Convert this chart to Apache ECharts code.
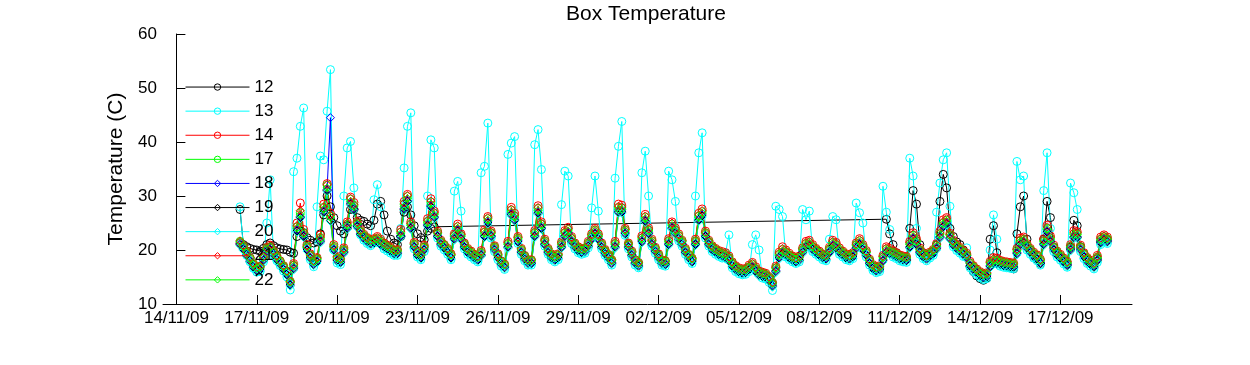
<!DOCTYPE html>
<html><head><meta charset="utf-8">
<script src="https://cdn.jsdelivr.net/npm/echarts@6/dist/echarts.min.js"></script>
<style>html,body{margin:0;padding:0;background:#fff}#chart{width:1250px;height:365px}</style>
</head><body><div id="chart"></div>
<script>
const chartTitle = 'Box Temperature';
const yAxisTitle = 'Temperature (C)';
const tickLabels = ['14/11/09','17/11/09','20/11/09','23/11/09','26/11/09','29/11/09','02/12/09','05/12/09','08/12/09','11/12/09','14/12/09','17/12/09'];
const yTicks = [10, 20, 30, 40, 50, 60];
const startTime = '16/11/09 09:00';
const stepHours = 3;
const seriesNames = ['12','13','14','17','18','19','20','21','22'];

const s12 = [
27.5,21.0,20.6,20.3,20.1,
20.0,19.8,20.3,21.0,21.3,20.8,20.4,20.2,
20.1,20.0,19.6,19.4,22.5,23.5,23.2,22.3,
21.8,21.3,21.5,23.0,26.5,30.0,28.0,26.0,
24.5,23.5,23.0,24.5,27.5,27.5,26.0,25.5,
25.3,24.8,24.5,25.5,28.5,29.0,26.5,23.5,
22.0,21.3,21.0,22.5,27.0,28.0,26.5,24.5,
23.0,22.3,21.9,23.5,24.0,24.3,null,null,
null,null,null,null,null,null,null,null,
null,null,null,null,null,null,null,null,
null,null,null,null,null,null,null,null,
null,null,null,null,null,null,null,null,
null,null,null,null,null,null,null,null,
null,null,null,null,null,null,null,null,
null,null,null,null,null,null,null,null,
null,null,null,null,null,null,null,null,
null,null,null,null,null,null,null,null,
null,null,null,null,null,null,null,null,
null,null,null,null,null,null,null,null,
null,null,null,null,null,null,null,null,
null,null,null,null,null,null,null,null,
null,null,null,null,null,null,null,null,
null,null,null,null,null,null,null,null,
null,null,null,null,null,null,null,null,
null,null,null,null,25.7,23.0,21.0,19.5,
19.0,18.5,18.3,24.0,31.0,28.5,21.0,19.5,
19.0,19.3,19.8,21.0,29.0,34.0,31.5,24.0,
22.5,21.5,21.0,20.0,19.0,17.0,16.0,15.2,
14.7,14.4,14.8,22.0,24.5,19.5,17.6,17.3,
17.0,16.8,16.5,23.0,28.0,30.0,22.0,20.0,
18.8,18.3,17.5,22.0,29.0,26.0,20.5,19.4,
18.6,18.0,17.4,20.5,25.5,24.5,20.6,19.3,
18.3,17.7,17.2,18.4,21.6,22.1,21.9
];

const s13 = [
28.0,20.5,19.0,17.8,16.6,
15.9,16.0,17.8,25.0,33.0,19.0,18.0,17.1,
16.1,15.0,12.6,34.5,37.0,42.9,46.3,20.5,
18.2,16.9,28.0,37.4,36.7,45.7,53.4,20.0,
17.6,17.3,30.0,38.9,40.1,31.5,24.5,22.8,
21.8,21.2,20.8,29.3,32.1,28.0,20.2,19.8,
19.4,19.0,19.0,24.0,35.2,42.9,45.4,20.2,
18.7,18.2,19.7,30.0,40.4,38.9,22.2,20.7,
20.0,19.2,18.2,30.9,32.7,27.2,20.2,19.2,
18.7,18.2,17.8,34.3,35.5,43.5,22.2,19.7,
18.2,17.0,16.4,37.7,39.8,41.0,21.2,19.2,
18.0,17.2,17.2,39.5,42.3,34.9,20.7,19.2,
18.2,17.8,18.2,28.4,34.6,33.7,21.2,20.2,
19.5,19.2,19.4,20.4,27.8,33.7,27.2,20.2,
19.0,18.2,17.2,33.3,39.2,43.8,22.7,20.2,
18.7,17.2,16.7,34.3,38.3,30.0,20.7,19.4,
18.2,17.2,17.0,34.6,33.0,29.0,21.7,20.7,
19.2,18.2,17.5,30.0,38.0,41.7,22.2,20.7,
19.7,19.2,18.8,18.5,19.5,22.8,16.7,16.0,
15.6,15.4,15.5,16.0,21.0,22.8,20.0,14.8,
14.6,14.0,12.5,28.1,27.5,26.2,18.7,18.2,
17.8,17.5,17.8,27.5,25.6,27.2,19.7,19.2,
18.7,18.2,18.0,22.0,26.2,25.6,19.2,18.7,
18.2,18.0,18.4,28.7,26.9,25.0,18.7,17.2,
16.2,15.8,16.0,31.8,27.0,23.8,18.7,18.4,
18.0,17.8,17.7,37.0,33.7,24.0,19.2,18.4,
18.0,18.5,19.0,27.0,32.4,36.7,38.0,28.1,
20.6,19.9,19.4,18.8,20.4,16.7,16.0,15.4,
14.9,14.5,14.7,20.0,26.5,22.0,17.0,16.8,
16.7,16.6,16.5,36.4,33.0,33.7,20.0,19.2,
18.5,18.0,17.2,31.0,38.0,24.0,19.7,18.7,
18.1,17.4,16.8,32.4,30.6,27.5,19.7,18.4,
17.5,17.0,16.5,17.7,21.0,21.5,21.2
];

const s14 = [
21.3,20.8,19.8,18.6,17.5,
16.8,17.0,18.8,20.5,20.9,19.9,18.9,18.0,
17.1,16.1,14.2,17.5,25.0,28.7,23.8,21.0,
19.3,18.0,18.6,22.8,28.5,32.3,26.8,21.0,
18.8,18.4,20.4,25.2,29.8,28.8,25.3,23.8,
22.9,22.3,21.8,22.1,22.5,22.0,21.3,20.9,
20.5,20.0,20.1,23.8,29.0,30.3,25.2,21.4,
19.8,19.3,20.9,25.8,29.5,27.2,23.5,21.8,
21.0,20.3,19.3,23.0,24.8,23.0,21.3,20.3,
19.8,19.2,18.8,19.9,23.7,26.2,23.5,20.8,
19.3,18.0,17.4,21.6,27.9,26.8,22.5,20.3,
19.0,18.2,18.2,23.6,28.2,25.2,22.0,20.3,
19.3,18.8,19.3,21.5,23.6,24.2,22.5,21.3,
20.6,20.2,20.4,21.6,23.0,24.0,23.0,21.3,
20.1,19.2,18.2,21.6,28.5,28.3,24.0,21.3,
19.8,18.2,17.7,22.6,26.6,24.1,22.0,20.5,
19.3,18.2,18.0,22.1,25.2,24.1,23.0,21.8,
20.3,19.2,18.5,22.0,26.8,27.6,23.5,21.8,
20.8,20.3,19.9,19.7,19.5,18.9,17.8,17.1,
16.7,16.5,16.6,17.2,17.7,16.9,16.1,15.9,
15.7,15.1,14.0,17.0,19.6,20.6,20.0,19.4,
18.9,18.6,18.9,20.4,21.6,21.8,21.0,20.3,
19.8,19.3,19.1,20.5,21.8,21.4,20.4,19.8,
19.3,19.1,19.5,21.3,22.1,21.0,19.9,18.3,
17.3,16.9,17.1,19.0,20.6,20.3,19.9,19.5,
19.1,18.9,18.8,21.6,23.2,22.1,20.4,19.5,
19.1,19.6,20.1,21.2,23.5,25.6,26.0,23.1,
21.8,21.0,20.5,19.9,19.4,17.9,17.1,16.5,
16.0,15.6,15.8,17.9,18.6,18.5,18.1,17.9,
17.8,17.7,17.6,20.3,22.2,22.4,21.2,20.3,
19.6,19.1,18.3,22.1,24.6,22.6,20.9,19.8,
19.2,18.5,17.9,21.0,23.6,23.4,20.9,19.5,
18.6,18.1,17.6,19.0,22.4,22.8,22.4
];

const s17 = [
21.6,20.7,19.6,18.5,17.4,
16.7,16.9,18.7,20.3,20.6,19.7,18.8,17.9,
17.0,16.0,14.1,17.2,24.3,26.9,23.2,20.7,
19.1,17.9,18.4,22.3,27.9,32.0,26.3,20.7,
18.6,18.3,20.1,24.8,29.4,28.3,25.0,23.5,
22.7,22.1,21.7,21.9,22.2,21.7,21.1,20.7,
20.3,19.9,19.9,23.3,28.5,29.9,24.8,21.1,
19.6,19.1,20.6,25.3,28.9,26.8,23.2,21.6,
20.9,20.1,19.1,22.7,24.3,22.7,21.1,20.1,
19.6,19.1,18.7,19.6,23.3,25.8,23.2,20.6,
19.1,17.9,17.3,21.2,27.4,26.3,22.2,20.1,
18.9,18.1,18.1,23.2,27.7,24.8,21.7,20.1,
19.1,18.7,19.1,21.2,23.2,23.8,22.2,21.1,
20.4,20.1,20.3,21.3,22.7,23.7,22.7,21.1,
19.9,19.1,18.1,21.2,27.9,27.8,23.7,21.1,
19.6,18.1,17.6,22.2,26.1,23.7,21.7,20.3,
19.1,18.1,17.9,21.7,24.8,23.7,22.7,21.6,
20.1,19.1,18.4,21.7,26.3,27.1,23.2,21.6,
20.6,20.1,19.7,19.4,19.2,18.6,17.6,16.9,
16.5,16.3,16.4,16.9,17.4,16.6,15.9,15.7,
15.5,14.9,13.9,16.7,19.2,20.1,19.7,19.1,
18.7,18.4,18.7,20.1,21.2,21.4,20.7,20.1,
19.6,19.1,18.9,20.2,21.4,21.0,20.1,19.6,
19.1,18.9,19.3,21.0,21.7,20.7,19.6,18.1,
17.1,16.7,16.9,18.7,20.2,19.9,19.6,19.3,
18.9,18.7,18.6,21.2,22.7,21.7,20.1,19.3,
18.9,19.4,19.9,20.9,23.0,25.0,25.5,22.8,
21.5,20.8,20.3,19.7,19.1,17.6,16.9,16.3,
15.8,15.4,15.6,17.6,18.2,18.1,17.9,17.7,
17.6,17.5,17.4,20.0,21.7,22.0,20.9,20.1,
19.4,18.9,18.1,21.7,24.0,22.2,20.6,19.6,
19.0,18.3,17.7,20.7,23.0,23.0,20.6,19.3,
18.4,17.9,17.4,18.7,22.0,22.5,22.1
];

const s18 = [
21.2,20.3,19.2,18.1,17.0,
16.3,16.5,18.3,19.9,20.2,19.3,18.4,17.5,
16.6,15.6,13.7,16.7,23.7,26.2,22.7,20.2,
18.7,17.5,18.0,21.7,27.2,31.2,44.5,20.2,
18.2,17.9,19.7,24.2,28.7,27.7,24.5,23.1,
22.3,21.7,21.3,21.5,21.7,21.2,20.7,20.3,
19.9,19.5,19.5,22.7,27.7,29.2,24.2,20.7,
19.2,18.7,20.2,24.7,28.2,26.2,22.7,21.2,
20.5,19.7,18.7,22.2,23.7,22.2,20.7,19.7,
19.2,18.7,18.3,19.2,22.7,25.2,22.7,20.2,
18.7,17.5,16.9,20.7,26.7,25.7,21.7,19.7,
18.5,17.7,17.7,22.7,27.0,24.2,21.2,19.7,
18.7,18.3,18.7,20.7,22.7,23.2,21.7,20.7,
20.0,19.7,19.9,20.9,22.2,23.2,22.2,20.7,
19.5,18.7,17.7,20.7,27.2,27.2,23.2,20.7,
19.2,17.7,17.2,21.7,25.5,23.2,21.2,19.9,
18.7,17.7,17.5,21.2,24.2,23.2,22.2,21.2,
19.7,18.7,18.0,21.2,25.7,26.5,22.7,21.2,
20.2,19.7,19.3,19.0,18.7,18.2,17.2,16.5,
16.1,15.9,16.0,16.5,16.9,16.2,15.5,15.3,
15.1,14.5,13.5,16.2,18.7,19.5,19.2,18.7,
18.3,18.0,18.3,19.7,20.7,20.9,20.2,19.7,
19.2,18.7,18.5,19.7,20.9,20.5,19.7,19.2,
18.7,18.5,18.9,20.5,21.2,20.2,19.2,17.7,
16.7,16.3,16.5,18.2,19.7,19.5,19.2,18.9,
18.5,18.3,18.2,20.7,22.2,21.2,19.7,18.9,
18.5,19.0,19.5,20.4,22.5,24.5,25.0,22.3,
21.1,20.4,19.9,19.3,18.7,17.2,16.5,15.9,
15.4,15.0,15.2,17.1,17.7,17.7,17.5,17.3,
17.2,17.1,17.0,19.5,21.2,21.5,20.5,19.7,
19.0,18.5,17.7,21.2,23.5,21.7,20.2,19.2,
18.6,17.9,17.3,20.2,22.5,22.5,20.2,18.9,
18.0,17.5,17.0,18.2,21.5,22.0,21.7
];

const s19 = [
21.0,20.1,19.0,17.9,16.8,
16.1,16.3,18.1,19.7,20.0,19.1,18.2,17.3,
16.4,15.4,13.5,16.5,23.5,26.0,22.5,20.0,
18.5,17.3,17.8,21.5,27.0,31.0,25.5,20.0,
18.0,17.7,19.5,24.0,28.5,27.5,24.3,22.9,
22.1,21.5,21.1,21.3,21.5,21.0,20.5,20.1,
19.7,19.3,19.3,22.5,27.5,29.0,24.0,20.5,
19.0,18.5,20.0,24.5,28.0,26.0,22.5,21.0,
20.3,19.5,18.5,22.0,23.5,22.0,20.5,19.5,
19.0,18.5,18.1,19.0,22.5,25.0,22.5,20.0,
18.5,17.3,16.7,20.5,26.5,25.5,21.5,19.5,
18.3,17.5,17.5,22.5,26.8,24.0,21.0,19.5,
18.5,18.1,18.5,20.5,22.5,23.0,21.5,20.5,
19.8,19.5,19.7,20.7,22.0,23.0,22.0,20.5,
19.3,18.5,17.5,20.5,27.0,27.0,23.0,20.5,
19.0,17.5,17.0,21.5,25.3,23.0,21.0,19.7,
18.5,17.5,17.3,21.0,24.0,23.0,22.0,21.0,
19.5,18.5,17.8,21.0,25.5,26.3,22.5,21.0,
20.0,19.5,19.1,18.8,18.5,18.0,17.0,16.3,
15.9,15.7,15.8,16.3,16.7,16.0,15.3,15.1,
14.9,14.3,13.3,16.0,18.5,19.3,19.0,18.5,
18.1,17.8,18.1,19.5,20.5,20.7,20.0,19.5,
19.0,18.5,18.3,19.5,20.7,20.3,19.5,19.0,
18.5,18.3,18.7,20.3,21.0,20.0,19.0,17.5,
16.5,16.1,16.3,18.0,19.5,19.3,19.0,18.7,
18.3,18.1,18.0,20.5,22.0,21.0,19.5,18.7,
18.3,18.8,19.3,20.2,22.3,24.3,24.8,22.1,
20.9,20.2,19.7,19.1,18.5,17.0,16.3,15.7,
15.2,14.8,15.0,16.9,17.5,17.5,17.3,17.1,
17.0,16.9,16.8,19.3,21.0,21.3,20.3,19.5,
18.8,18.3,17.5,21.0,23.3,21.5,20.0,19.0,
18.4,17.7,17.1,20.0,22.3,22.3,20.0,18.7,
17.8,17.3,16.8,18.0,21.3,21.8,21.5
];

const s20 = [
20.8,19.9,18.8,17.7,16.6,
15.9,16.1,17.9,19.5,19.8,18.9,18.0,17.1,
16.2,15.2,13.3,16.3,23.3,25.8,22.3,19.8,
18.3,17.1,17.6,21.3,26.8,30.8,25.3,19.8,
17.8,17.5,19.3,23.8,28.3,27.3,24.1,22.7,
21.9,21.3,20.9,21.1,21.3,20.8,20.3,19.9,
19.5,19.1,19.1,22.3,27.3,28.8,23.8,20.3,
18.8,18.3,19.8,24.3,27.8,25.8,22.3,20.8,
20.1,19.3,18.3,21.8,23.3,21.8,20.3,19.3,
18.8,18.3,17.9,18.8,22.3,24.8,22.3,19.8,
18.3,17.1,16.5,20.3,26.3,25.3,21.3,19.3,
18.1,17.3,17.3,22.3,26.6,23.8,20.8,19.3,
18.3,17.9,18.3,20.3,22.3,22.8,21.3,20.3,
19.6,19.3,19.5,20.5,21.8,22.8,21.8,20.3,
19.1,18.3,17.3,20.3,26.8,26.8,22.8,20.3,
18.8,17.3,16.8,21.3,25.1,22.8,20.8,19.5,
18.3,17.3,17.1,20.8,23.8,22.8,21.8,20.8,
19.3,18.3,17.6,20.8,25.3,26.1,22.3,20.8,
19.8,19.3,18.9,18.6,18.3,17.8,16.8,16.1,
15.7,15.5,15.6,16.1,16.5,15.8,15.1,14.9,
14.7,14.1,13.1,15.8,18.3,19.1,18.8,18.3,
17.9,17.6,17.9,19.3,20.3,20.5,19.8,19.3,
18.8,18.3,18.1,19.3,20.5,20.1,19.3,18.8,
18.3,18.1,18.5,20.1,20.8,19.8,18.8,17.3,
16.3,15.9,16.1,17.8,19.3,19.1,18.8,18.5,
18.1,17.9,17.8,20.3,21.8,20.8,19.3,18.5,
18.1,18.6,19.1,20.0,22.1,24.1,24.6,21.9,
20.7,20.0,19.5,18.9,18.3,16.8,16.1,15.5,
15.0,14.6,14.8,16.7,17.3,17.3,17.1,16.9,
16.8,16.7,16.6,19.1,20.8,21.1,20.1,19.3,
18.6,18.1,17.3,20.8,23.1,21.3,19.8,18.8,
18.2,17.5,16.9,19.8,22.1,22.1,19.8,18.5,
17.6,17.1,16.6,17.8,21.1,21.6,21.3
];

const s21 = [
21.7,20.8,19.7,18.6,17.5,
16.8,17.0,18.8,20.4,20.8,19.8,18.9,18.0,
17.1,16.1,14.2,17.3,24.5,27.3,23.3,20.7,
19.2,18.0,18.5,22.4,28.0,32.1,26.4,20.7,
18.7,18.4,20.2,25.0,29.6,28.4,25.1,23.6,
22.8,22.2,21.8,22.0,22.3,21.8,21.2,20.8,
20.4,20.0,20.0,23.5,28.7,30.1,24.9,21.2,
19.7,19.2,20.7,25.5,29.1,27.0,23.3,21.7,
21.0,20.2,19.2,22.9,24.5,22.9,21.2,20.2,
19.7,19.2,18.8,19.7,23.5,26.0,23.3,20.7,
19.2,18.0,17.4,21.4,27.6,26.5,22.3,20.2,
19.0,18.2,18.2,23.4,27.9,25.0,21.8,20.2,
19.2,18.8,19.2,21.3,23.4,24.0,22.3,21.2,
20.5,20.2,20.4,21.4,22.8,23.8,22.8,21.2,
20.0,19.2,18.2,21.4,28.1,28.0,23.8,21.2,
19.7,18.2,17.7,22.4,26.3,23.9,21.8,20.4,
19.2,18.2,18.0,21.9,25.0,23.9,22.8,21.7,
20.2,19.2,18.5,21.8,26.5,27.3,23.3,21.7,
20.7,20.2,19.8,19.5,19.3,18.7,17.7,17.0,
16.6,16.4,16.5,17.0,17.5,16.7,16.0,15.8,
15.6,15.0,14.0,16.8,19.4,20.3,19.8,19.2,
18.8,18.5,18.8,20.2,21.4,21.6,20.8,20.2,
19.7,19.2,19.0,20.3,21.6,21.2,20.2,19.7,
19.2,19.0,19.4,21.1,21.9,20.8,19.7,18.2,
17.2,16.8,17.0,18.8,20.4,20.1,19.7,19.4,
19.0,18.8,18.7,21.4,23.0,21.9,20.2,19.4,
19.0,19.5,20.0,21.0,23.2,25.3,25.8,22.9,
21.6,20.9,20.4,19.8,19.2,17.7,17.0,16.4,
15.9,15.5,15.7,17.7,18.4,18.3,18.0,17.8,
17.7,17.6,17.5,20.1,22.0,22.2,21.0,20.2,
19.5,19.0,18.2,21.9,24.3,22.4,20.7,19.7,
19.1,18.4,17.8,20.8,23.3,23.2,20.7,19.4,
18.5,18.0,17.5,18.8,22.2,22.6,22.2
];

const s22 = [
21.5,20.6,19.5,18.4,17.3,
16.6,16.8,18.6,20.2,20.5,19.6,18.7,17.8,
16.9,15.9,14.0,17.0,24.0,26.5,23.0,20.5,
19.0,17.8,18.3,22.0,27.5,31.5,26.0,20.5,
18.5,18.2,20.0,24.5,29.0,28.0,24.8,23.4,
22.6,22.0,21.6,21.8,22.0,21.5,21.0,20.6,
20.2,19.8,19.8,23.0,28.0,29.5,24.5,21.0,
19.5,19.0,20.5,25.0,28.5,26.5,23.0,21.5,
20.8,20.0,19.0,22.5,24.0,22.5,21.0,20.0,
19.5,19.0,18.6,19.5,23.0,25.5,23.0,20.5,
19.0,17.8,17.2,21.0,27.0,26.0,22.0,20.0,
18.8,18.0,18.0,23.0,27.3,24.5,21.5,20.0,
19.0,18.6,19.0,21.0,23.0,23.5,22.0,21.0,
20.3,20.0,20.2,21.2,22.5,23.5,22.5,21.0,
19.8,19.0,18.0,21.0,27.5,27.5,23.5,21.0,
19.5,18.0,17.5,22.0,25.8,23.5,21.5,20.2,
19.0,18.0,17.8,21.5,24.5,23.5,22.5,21.5,
20.0,19.0,18.3,21.5,26.0,26.8,23.0,21.5,
20.5,20.0,19.6,19.3,19.0,18.5,17.5,16.8,
16.4,16.2,16.3,16.8,17.2,16.5,15.8,15.6,
15.4,14.8,13.8,16.5,19.0,19.8,19.5,19.0,
18.6,18.3,18.6,20.0,21.0,21.2,20.5,20.0,
19.5,19.0,18.8,20.0,21.2,20.8,20.0,19.5,
19.0,18.8,19.2,20.8,21.5,20.5,19.5,18.0,
17.0,16.6,16.8,18.5,20.0,19.8,19.5,19.2,
18.8,18.6,18.5,21.0,22.5,21.5,20.0,19.2,
18.8,19.3,19.8,20.7,22.8,24.8,25.3,22.6,
21.4,20.7,20.2,19.6,19.0,17.5,16.8,16.2,
15.7,15.3,15.5,17.4,18.0,18.0,17.8,17.6,
17.5,17.4,17.3,19.8,21.5,21.8,20.8,20.0,
19.3,18.8,18.0,21.5,23.8,22.0,20.5,19.5,
18.9,18.2,17.6,20.5,22.8,22.8,20.5,19.2,
18.3,17.8,17.3,18.5,21.8,22.3,22.0
];

const seriesValues = [s12, s13, s14, s17, s18, s19, s20, s21, s22];
const seriesColors = ['#000000','#00ffff','#ff0000','#00ff00','#0000ff','#000000','#00ffff','#ff0000','#00ff00'];
const seriesSymbols = ['circle','circle','circle','circle','diamond','diamond','diamond','diamond','diamond'];

const FONT = '"Liberation Sans", Arial, Helvetica, sans-serif';
const EPOCH = Date.UTC(2009, 10, 14);
function dayOf(s) {
  const p = s.split('/').map(Number);
  return (Date.UTC(2000 + p[2], p[1] - 1, p[0]) - EPOCH) / 864e5;
}
const startParts = startTime.split(' ');
const t0 = dayOf(startParts[0]) + Number(startParts[1].split(':')[0]) / 24;
const tickPos = tickLabels.map(dayOf);

const series = seriesNames.map((name, k) => ({
  name: name,
  type: 'line',
  data: seriesValues[k].map((v, i) => [t0 + i * stepHours / 24, v === null ? '-' : v]),
  connectNulls: true,
  symbol: seriesSymbols[k],
  symbolSize: 8,
  showSymbol: true,
  lineStyle: { color: seriesColors[k], width: 1 },
  itemStyle: { color: 'rgba(0,0,0,0)', borderColor: seriesColors[k], borderWidth: 1 },
  emphasis: { disabled: true },
  silent: true,
  animation: false
}));

const chart = echarts.init(document.getElementById('chart'), null, { renderer: 'canvas' });
chart.setOption({
  animation: false,
  backgroundColor: '#ffffff',
  textStyle: { fontFamily: FONT },
  title: {
    text: chartTitle, left: 646, top: 4, textAlign: 'center', padding: 0,
    textStyle: { fontFamily: FONT, fontSize: 21, fontWeight: 'normal', color: '#000' }
  },
  grid: { left: 163, right: 118, top: 34, bottom: 61, containLabel: false },
  legend: {
    orient: 'vertical', left: 185, top: 78, padding: 0,
    itemWidth: 64, itemHeight: 8, itemGap: 6,
    selectedMode: false,
    textStyle: { fontFamily: FONT, fontSize: 17, lineHeight: 18.1, color: '#000' },
    itemStyle: { borderWidth: 1 },
    lineStyle: { width: 1 },
    data: seriesNames
  },
  xAxis: {
    type: 'value', min: -0.5, max: 35.67,
    axisLine: { lineStyle: { color: '#000', width: 1 } },
    axisTick: { show: true, inside: true, length: 9, customValues: tickPos, lineStyle: { color: '#000' } },
    axisLabel: {
      customValues: tickPos, margin: 6, color: '#000', fontFamily: FONT, fontSize: 17,
      formatter: v => { const j = tickPos.findIndex(t => Math.abs(t - v) < 1e-6); return j >= 0 ? tickLabels[j] : ''; }
    },
    splitLine: { show: false }
  },
  yAxis: {
    type: 'value', min: yTicks[0], max: yTicks[yTicks.length - 1], interval: 10,
    name: yAxisTitle, nameLocation: 'middle', nameGap: 36,
    nameTextStyle: { fontFamily: FONT, fontSize: 21, color: '#000' },
    axisLine: { show: true, lineStyle: { color: '#000', width: 1 } },
    axisTick: { show: true, inside: true, length: 9, lineStyle: { color: '#000' } },
    axisLabel: { margin: 6, color: '#000', fontFamily: FONT, fontSize: 17 },
    splitLine: { show: false }
  },
  series: series
});
</script>
</body></html>
